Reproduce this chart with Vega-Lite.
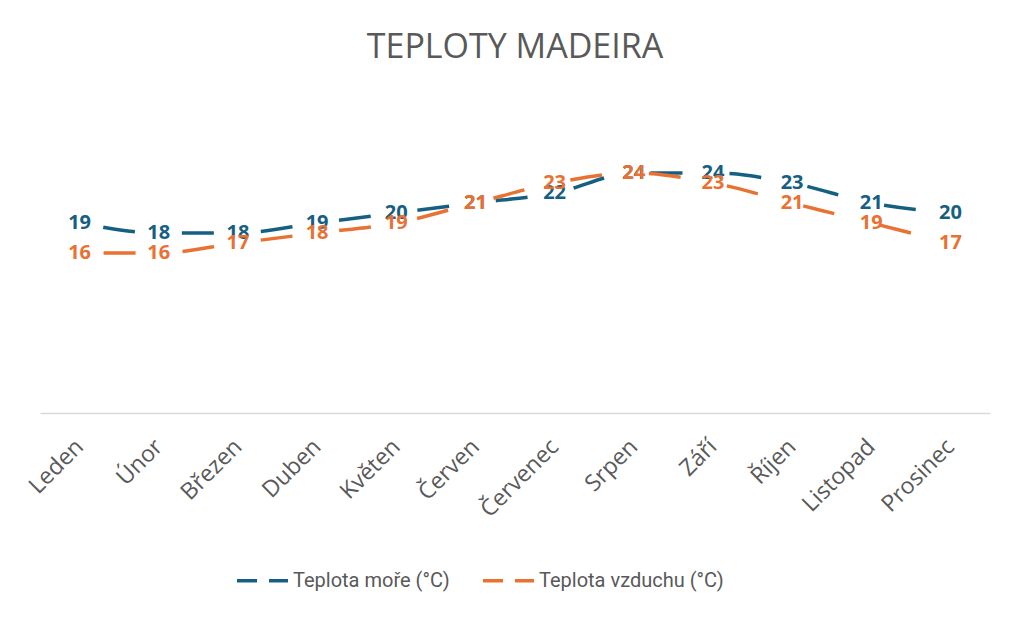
{
  "$schema": "https://vega.github.io/schema/vega-lite/v6.json",
  "width": 950,
  "height": 300,
  "autosize": {"type": "none"},
  "padding": {"left": 40, "top": 113, "right": 34, "bottom": 205},
  "background": "white",
  "title": {
    "text": "TEPLOTY MADEIRA",
    "fontSize": 34,
    "font": "Open Sans",
    "fontWeight": "normal",
    "color": "#595959",
    "anchor": "middle",
    "offset": 48
  },
  "data": {
    "values": [
      {"mesic": "Leden", "rada": "Teplota moře (°C)", "hodnota": 19},
      {"mesic": "Únor", "rada": "Teplota moře (°C)", "hodnota": 18},
      {"mesic": "Březen", "rada": "Teplota moře (°C)", "hodnota": 18},
      {"mesic": "Duben", "rada": "Teplota moře (°C)", "hodnota": 19},
      {"mesic": "Květen", "rada": "Teplota moře (°C)", "hodnota": 20},
      {"mesic": "Červen", "rada": "Teplota moře (°C)", "hodnota": 21},
      {"mesic": "Červenec", "rada": "Teplota moře (°C)", "hodnota": 22},
      {"mesic": "Srpen", "rada": "Teplota moře (°C)", "hodnota": 24},
      {"mesic": "Září", "rada": "Teplota moře (°C)", "hodnota": 24},
      {"mesic": "Říjen", "rada": "Teplota moře (°C)", "hodnota": 23},
      {"mesic": "Listopad", "rada": "Teplota moře (°C)", "hodnota": 21},
      {"mesic": "Prosinec", "rada": "Teplota moře (°C)", "hodnota": 20},
      {"mesic": "Leden", "rada": "Teplota vzduchu (°C)", "hodnota": 16},
      {"mesic": "Únor", "rada": "Teplota vzduchu (°C)", "hodnota": 16},
      {"mesic": "Březen", "rada": "Teplota vzduchu (°C)", "hodnota": 17},
      {"mesic": "Duben", "rada": "Teplota vzduchu (°C)", "hodnota": 18},
      {"mesic": "Květen", "rada": "Teplota vzduchu (°C)", "hodnota": 19},
      {"mesic": "Červen", "rada": "Teplota vzduchu (°C)", "hodnota": 21},
      {"mesic": "Červenec", "rada": "Teplota vzduchu (°C)", "hodnota": 23},
      {"mesic": "Srpen", "rada": "Teplota vzduchu (°C)", "hodnota": 24},
      {"mesic": "Září", "rada": "Teplota vzduchu (°C)", "hodnota": 23},
      {"mesic": "Říjen", "rada": "Teplota vzduchu (°C)", "hodnota": 21},
      {"mesic": "Listopad", "rada": "Teplota vzduchu (°C)", "hodnota": 19},
      {"mesic": "Prosinec", "rada": "Teplota vzduchu (°C)", "hodnota": 17}
    ]
  },
  "encoding": {
    "x": {
      "field": "mesic",
      "type": "nominal",
      "sort": null,
      "scale": {"paddingInner": 0, "paddingOuter": 0.5},
      "axis": {
        "title": null,
        "labelAngle": -45,
        "labelFontSize": 23,
        "labelFont": "Open Sans",
        "labelColor": "#595959",
        "labelPadding": 22,
        "labelOffset": -8,
        "ticks": false,
        "domainColor": "#d9d9d9",
        "domainWidth": 1.5,
        "grid": false
      }
    },
    "y": {
      "field": "hodnota",
      "type": "quantitative",
      "scale": {"domain": [0, 30], "nice": false},
      "axis": null
    },
    "color": {
      "field": "rada",
      "type": "nominal",
      "scale": {
        "domain": ["Teplota moře (°C)", "Teplota vzduchu (°C)"],
        "range": ["#156082", "#E97132"]
      },
      "legend": {
        "title": null,
        "orient": "none",
        "direction": "horizontal",
        "legendX": 195,
        "legendY": 440,
        "symbolType": "stroke",
        "symbolSize": 2600,
        "symbolStrokeWidth": 3.5,
        "symbolDash": [20, 12],
        "labelFontSize": 20,
        "labelFont": "Roboto",
        "labelColor": "#595959",
        "labelOffset": 3,
        "labelLimit": 400,
        "columnPadding": 26
      }
    }
  },
  "layer": [
    {
      "mark": {
        "type": "line",
        "interpolate": "monotone",
        "strokeWidth": 3.5,
        "strokeDash": [32, 47],
        "strokeDashOffset": 55
      }
    },
    {
      "mark": {
        "type": "text",
        "fontSize": 20,
        "fontWeight": "bold",
        "font": "Open Sans",
        "align": "center",
        "baseline": "middle"
      },
      "encoding": {
        "text": {"field": "hodnota", "type": "quantitative"}
      }
    }
  ],
  "config": {"view": {"stroke": null}}
}
